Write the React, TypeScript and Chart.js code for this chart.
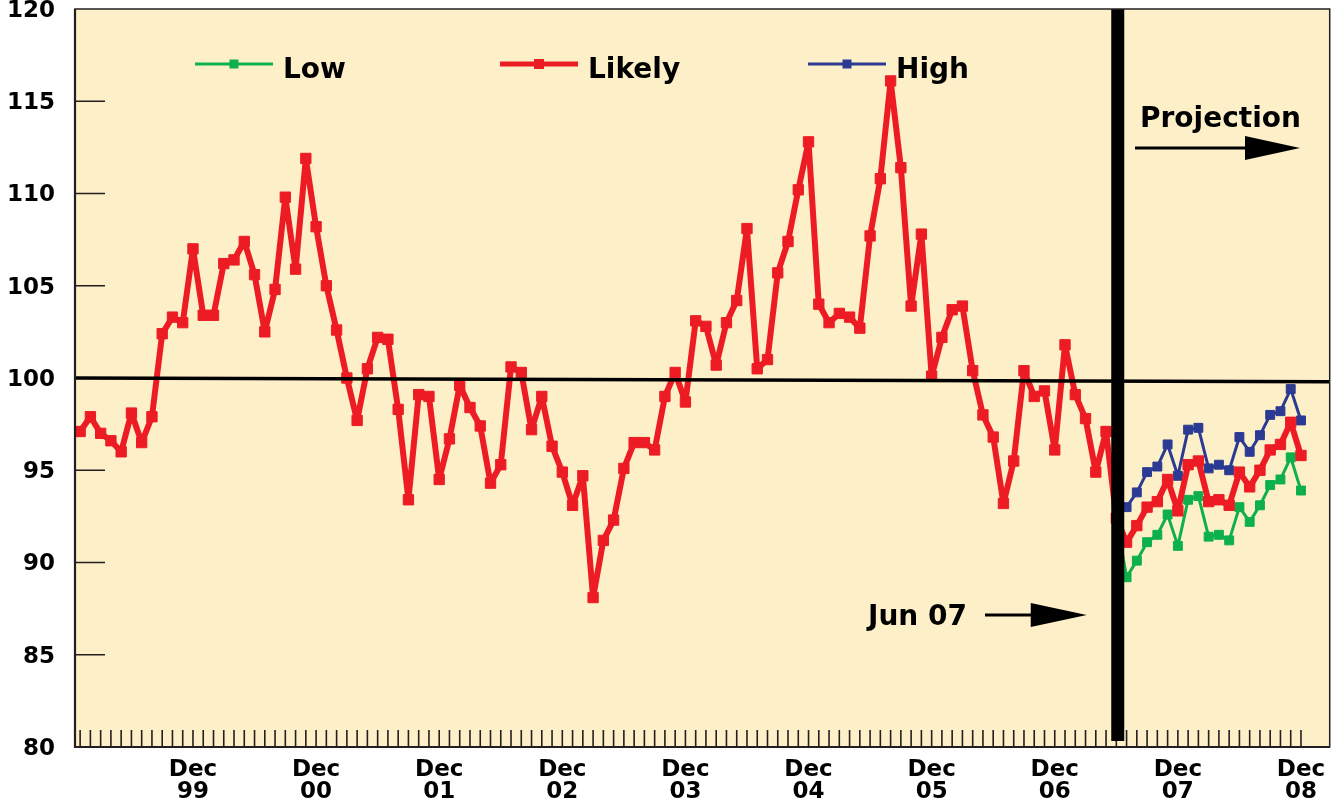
import React, { useEffect, useRef } from "react";
import { Chart, registerables } from "chart.js";

Chart.register(...registerables);

// ---- data ----
const YEARS = ["99", "00", "01", "02", "03", "04", "05", "06", "07", "08"];

// Monthly index, Jan 99 = 0 ... Dec 08 = 119
const LIKELY = [
  97.1, 97.9, 97.0, 96.6, 96.0, 98.1, 96.5, 97.9, 102.4, 103.3, 103.0, 107.0,
  103.4, 103.4, 106.2, 106.4, 107.4, 105.6, 102.5, 104.8, 109.8, 105.9, 111.9, 108.2,
  105.0, 102.6, 100.0, 97.7, 100.5, 102.2, 102.1, 98.3, 93.4, 99.1, 99.0, 94.5,
  96.7, 99.6, 98.4, 97.4, 94.3, 95.3, 100.6, 100.3, 97.2, 99.0, 96.3, 94.9,
  93.1, 94.7, 88.1, 91.2, 92.3, 95.1, 96.5, 96.5, 96.1, 99.0, 100.3, 98.7,
  103.1, 102.8, 100.7, 103.0, 104.2, 108.1, 100.5, 101.0, 105.7, 107.4, 110.2, 112.8,
  104.0, 103.0, 103.5, 103.3, 102.7, 107.7, 110.8, 116.1, 111.4, 103.9, 107.8, 100.1,
  102.2, 103.7, 103.9, 100.4, 98.0, 96.8, 93.2, 95.5, 100.4, 99.0, 99.3, 96.1,
  101.8, 99.1, 97.8, 94.9, 97.1, 92.4, 91.1, 92.0, 93.0, 93.3, 94.5, 92.8,
  95.3, 95.5, 93.3, 93.4, 93.1, 94.9, 94.1, 95.0, 96.1, 96.4, 97.6, 95.8,
];

// Projection scenarios, starting at Jun 07
const PROJ_START = 101;
const LOW = [
  92.4, 89.2, 90.1, 91.1, 91.5, 92.6, 90.9, 93.4, 93.6, 91.4, 91.5, 91.2, 93.0, 92.2,
  93.1, 94.2, 94.5, 95.7, 93.9,
];
const HIGH = [
  92.4, 93.0, 93.8, 94.9, 95.2, 96.4, 94.7, 97.2, 97.3, 95.1, 95.3, 95.0, 96.8, 96.0,
  96.9, 98.0, 98.2, 99.4, 97.7,
];

const Y_TICKS = [80, 85, 90, 95, 100, 105, 110, 115, 120];
const REF_LEFT = 100.0;
const REF_RIGHT = 99.8;

// ---- styles ----
const FONT = "'DejaVu Sans', sans-serif";
const BG = "#FDF0C8";
const RED = "#ED1C24";
const GREEN = "#0DB04B";
const BLUE = "#2B3A93";
const INK = "#000000";

const DEC_IDX = YEARS.map((_, k) => 11 + 12 * k);

const zeroPad = (s: any) => {
  s.paddingTop = 0;
  s.paddingBottom = 0;
  s.paddingLeft = 0;
  s.paddingRight = 0;
};

const decorPlugin = {
  id: "decor",
  beforeDraw(chart: any) {
    const { ctx, chartArea: a } = chart;
    ctx.save();
    ctx.fillStyle = BG;
    ctx.fillRect(a.left, a.top, a.right - a.left, a.bottom - a.top);
    ctx.restore();
  },
  afterDatasetsDraw(chart: any) {
    const { ctx, chartArea: a } = chart;
    const x = chart.scales.x;
    const y = chart.scales.y;
    ctx.save();

    // reference line at 100
    ctx.strokeStyle = INK;
    ctx.lineWidth = 3.5;
    ctx.beginPath();
    ctx.moveTo(a.left, y.getPixelForValue(REF_LEFT));
    ctx.lineTo(a.right, y.getPixelForValue(REF_RIGHT));
    ctx.stroke();

    // inner monthly ticks
    ctx.strokeStyle = "#231F20";
    ctx.lineWidth = 1.6;
    ctx.beginPath();
    for (let i = 0; i < LIKELY.length; i++) {
      const px = x.getPixelForValue(i);
      ctx.moveTo(px, a.bottom);
      ctx.lineTo(px, a.bottom - 17);
    }
    ctx.stroke();

    // inner y ticks
    ctx.lineWidth = 1.5;
    ctx.beginPath();
    for (const v of Y_TICKS) {
      if (v <= y.min || v >= y.max || v === 100) continue;
      const py = y.getPixelForValue(v);
      ctx.moveTo(a.left, py);
      ctx.lineTo(a.left + 30, py);
    }
    ctx.stroke();

    // vertical projection bar
    const bx = x.getPixelForValue(PROJ_START + 0.14);
    ctx.fillStyle = INK;
    ctx.fillRect(bx - 6.5, a.top, 13, a.bottom - 6 - a.top);

    // plot border
    ctx.strokeStyle = "#231F20";
    ctx.lineWidth = 1.5;
    ctx.strokeRect(a.left, a.top, a.right - a.left, a.bottom - a.top);
    ctx.lineWidth = 2.2;
    ctx.beginPath();
    ctx.moveTo(a.left, a.top);
    ctx.lineTo(a.left, a.bottom);
    ctx.lineTo(a.right, a.bottom);
    ctx.stroke();

    // legend (inside plot)
    const legendX = [195, 500, 808];
    const ly = a.top + 55;
    ctx.font = `bold 28px ${FONT}`;
    ctx.textBaseline = "alphabetic";
    ctx.textAlign = "left";
    chart.data.datasets.forEach((ds: any, k: number) => {
      const lx = legendX[k];
      ctx.strokeStyle = ds.borderColor;
      ctx.lineWidth = ds.borderWidth > 4 ? 5 : ds.borderWidth;
      ctx.beginPath();
      ctx.moveTo(lx, ly);
      ctx.lineTo(lx + 78, ly);
      ctx.stroke();
      const s = ds.borderWidth > 4 ? 10 : 9;
      ctx.fillStyle = ds.borderColor;
      ctx.fillRect(lx + 39 - s / 2, ly - s / 2, s, s);
      ctx.fillStyle = INK;
      ctx.fillText(ds.label, lx + 88, ly + 14);
    });

    // "Projection" annotation
    ctx.fillStyle = INK;
    ctx.fillText("Projection", 1140, a.top + 118);
    const ay = a.top + 139;
    ctx.strokeStyle = INK;
    ctx.lineWidth = 3;
    ctx.beginPath();
    ctx.moveTo(1135, ay);
    ctx.lineTo(1250, ay);
    ctx.stroke();
    ctx.beginPath();
    ctx.moveTo(1245, ay - 12);
    ctx.lineTo(1300, ay);
    ctx.lineTo(1245, ay + 12);
    ctx.closePath();
    ctx.fill();

    // "Jun 07" annotation
    ctx.fillText("Jun 07", 868, 625);
    const jy = 615;
    const tip = bx - 31;
    ctx.beginPath();
    ctx.moveTo(985, jy);
    ctx.lineTo(tip - 50, jy);
    ctx.stroke();
    ctx.beginPath();
    ctx.moveTo(tip - 56, jy - 12);
    ctx.lineTo(tip, jy);
    ctx.lineTo(tip - 56, jy + 12);
    ctx.closePath();
    ctx.fill();

    ctx.restore();
  },
};

export default function App() {
  const ref = useRef<HTMLCanvasElement | null>(null);

  useEffect(() => {
    if (!ref.current) return;
    const common = {
      pointStyle: "rect",
      pointBorderWidth: 1,
      tension: 0,
      borderJoinStyle: "round",
      borderCapStyle: "round",
    };
    const chart = new Chart(ref.current, {
      type: "line",
      data: {
        datasets: [
          {
            ...common,
            label: "Low",
            data: LOW.map((v, k) => ({ x: PROJ_START + k, y: v })),
            borderColor: GREEN,
            backgroundColor: GREEN,
            borderWidth: 3,
            pointRadius: 6.3,
            pointBorderColor: GREEN,
            pointBackgroundColor: GREEN,
            order: 1,
          },
          {
            ...common,
            label: "Likely",
            data: LIKELY.map((v, i) => ({ x: i, y: v })),
            borderColor: RED,
            backgroundColor: RED,
            borderWidth: 6,
            pointRadius: 7.3,
            pointBorderColor: RED,
            pointBackgroundColor: RED,
            order: 0,
          },
          {
            ...common,
            label: "High",
            data: HIGH.map((v, k) => ({ x: PROJ_START + k, y: v })),
            borderColor: BLUE,
            backgroundColor: BLUE,
            borderWidth: 3,
            pointRadius: 6.3,
            pointBorderColor: BLUE,
            pointBackgroundColor: BLUE,
            order: 1,
          },
        ],
      },
      options: {
        animation: false,
        responsive: false,
        devicePixelRatio: 1,
        layout: { padding: { top: 9, right: 7, left: 0, bottom: 0 } },
        plugins: {
          legend: { display: false },
          tooltip: { enabled: false },
        },
        scales: {
          x: {
            type: "linear",
            min: -0.5,
            max: 121.8,
            grid: { display: false, drawTicks: false },
            border: { display: false },
            afterBuildTicks: (s: any) => {
              s.ticks = DEC_IDX.map((v) => ({ value: v }));
            },
            afterFit: (s: any) => {
              s.height = 62;
              zeroPad(s);
            },
            ticks: {
              autoSkip: false,
              maxRotation: 0,
              minRotation: 0,
              padding: 12,
              color: INK,
              font: { family: FONT, size: 23, weight: "bold", lineHeight: 0.95 },
              callback: (v: any) => {
                const k = (Number(v) - 11) / 12;
                return YEARS[k] !== undefined ? ["Dec", YEARS[k]] : "";
              },
            },
          },
          y: {
            min: 80,
            max: 120,
            grid: { display: false, drawTicks: false },
            border: { display: false },
            afterFit: (s: any) => {
              s.width = 75;
              zeroPad(s);
            },
            ticks: {
              stepSize: 5,
              padding: 20,
              labelOffset: 2,
              color: INK,
              font: { family: FONT, size: 23, weight: "bold" },
            },
          },
        },
      },
      plugins: [decorPlugin],
    } as any);
    return () => chart.destroy();
  }, []);

  return (
    <div
      style={{
        position: "absolute",
        left: 0,
        top: 0,
        width: 1338,
        height: 809,
        background: "#ffffff",
      }}
    >
      <canvas ref={ref} width={1338} height={809} style={{ display: "block" }} />
    </div>
  );
}
